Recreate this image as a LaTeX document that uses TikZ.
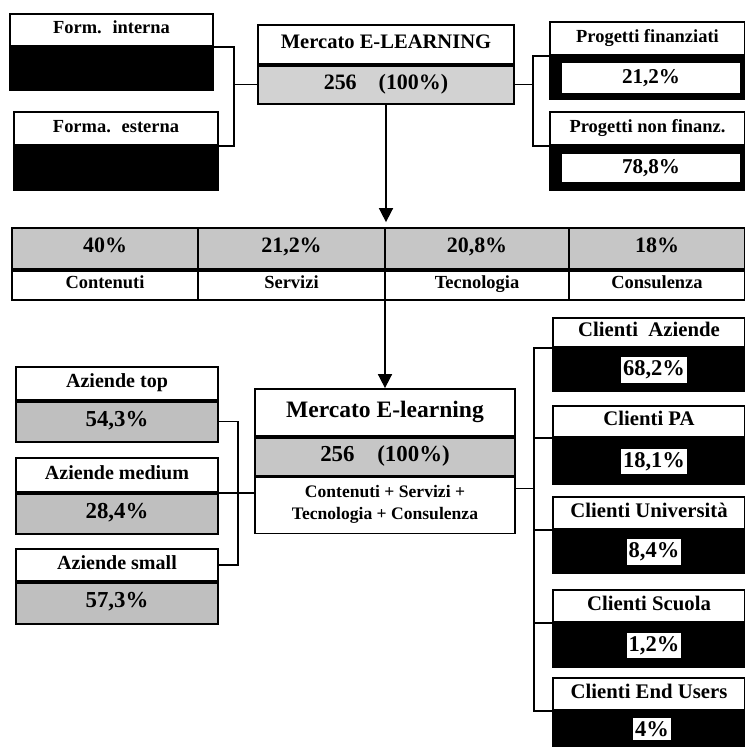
\documentclass[tikz,border=0pt]{standalone}
\usepackage{fontspec}
\setmainfont{Liberation Serif}
\usetikzlibrary{arrows.meta,calc}

\begin{document}
\begin{tikzpicture}[
  head/.style={draw,line width=1pt,fill=white,inner sep=0pt,font=\bfseries\fontsize{#1}{#1}\selectfont,execute at begin node=\strut},
  greyval/.style={draw,line width=1pt,fill=gray!45,inner sep=0pt,font=\bfseries\fontsize{#1}{#1}\selectfont,execute at begin node=\strut},
  blackval/.style={draw,line width=1pt,fill=black,inner sep=0pt},
  tag/.style={fill=white,inner xsep=1pt,inner ysep=2pt,font=\bfseries\fontsize{#1}{#1}\selectfont},
  wh/.style 2 args={minimum width=#1cm,minimum height=#2cm},
  link/.style={line width=0.8pt},
  flow/.style={line width=0.9pt,-{Triangle[width=8pt,length=8pt]}}
]
\useasboundingbox (0,0) rectangle (14.9,-14.94);

% Top: formazione interna / esterna
\node[head=10.5,wh={4.06}{0.64}] (fint) at (2.23,-0.60) {Form.~ interna};
\node[blackval,wh={4.06}{0.84},anchor=north] (fintv) at (fint.south) {};
\node[head=10.5,wh={4.08}{0.66}] (fest) at (2.32,-2.57) {Forma.~ esterna};
\node[blackval,wh={4.08}{0.86},anchor=north] (festv) at (fest.south) {};

% Top: mercato
\node[head=11.7,wh={5.12}{0.78}] (mtit) at (7.72,-0.89) {Mercato E-LEARNING};
\node[greyval=12.5,wh={5.12}{0.76},anchor=north,fill=gray!35] (mval) at (mtit.south) {256\quad(100\%)};

% Top: progetti
\node[head=10.5,wh={3.9}{0.66}] (pfin) at (12.95,-0.77) {Progetti finanziati};
\node[blackval,wh={3.9}{0.84},anchor=north] (pfinv) at (pfin.south) {};
\node[tag=12,wh={3.56}{0.60}] (pfinl) at ([xshift=2pt]pfinv.center) {21,2\%};
\node[head=10.5,wh={3.9}{0.66}] (pnon) at (12.95,-2.57) {Progetti non finanz.};
\node[blackval,wh={3.9}{0.86},anchor=north] (pnonv) at (pnon.south) {};
\node[tag=12,wh={3.56}{0.56}] (pnonl) at ([xshift=2pt]pnonv.center) {78,8\%};

\draw[link] (mval.west) -- ++(-0.46,0) coordinate (fj);
\draw[link] (fint.south east) -| (fj) |- (fest.south east);
\draw[link] (mval.east) -- ++(0.36,0) coordinate (pj);
\draw[link] (pfin.south west) -| (pj) |- (pnon.south west);

% Table of segments
\node[greyval=12.5,wh={3.72}{0.82}] (vcon) at (2.10,-4.97) {40\%};
\node[greyval=12.5,wh={3.74}{0.82}] (vser) at (5.83,-4.97) {21,2\%};
\node[greyval=12.5,wh={3.68}{0.82}] (vtec) at (9.54,-4.97) {20,8\%};
\node[greyval=12.5,wh={3.52}{0.82}] (vcsu) at (13.14,-4.97) {18\%};
\node[head=10.5,wh={3.72}{0.58},anchor=north] (lcon) at (vcon.south) {Contenuti};
\node[head=10.5,wh={3.74}{0.58},anchor=north] (lser) at (vser.south) {Servizi};
\node[head=10.5,wh={3.68}{0.58},anchor=north] (ltec) at (vtec.south) {Tecnologia};
\node[head=10.5,wh={3.52}{0.58},anchor=north] (lcsu) at (vcsu.south) {Consulenza};

\draw[flow,shorten >=0.1cm] (mval.south) -- (mval.south |- vtec.north);

% Bottom: mercato
\node[head=13.4,wh={5.2}{0.94}] (emt) at (7.70,-8.25) {Mercato E-learning};
\node[greyval=13,wh={5.2}{0.76},anchor=north] (emv) at (emt.south) {256\quad(100\%)};
\node[head=10,wh={5.2}{1.12},anchor=north,align=center,font=\bfseries\fontsize{10}{12}\selectfont] (ems) at (emv.south) {Contenuti + Servizi +\\Tecnologia + Consulenza};

\draw[flow] (emt.north |- ltec.south) -- (emt.north);

% Bottom: aziende
\node[head=11.4,wh={4.04}{0.66}] (atop) at (2.34,-7.67) {Aziende top};
\node[greyval=13,wh={4.04}{0.80},anchor=north,fill=gray!50] (atopv) at (atop.south) {54,3\%};
\node[head=11.4,wh={4.04}{0.68}] (amed) at (2.34,-9.50) {Aziende medium};
\node[greyval=13,wh={4.04}{0.80},anchor=north,fill=gray!50] (amedv) at (amed.south) {28,4\%};
\node[head=11.4,wh={4.04}{0.64}] (asma) at (2.34,-11.30) {Aziende small};
\node[greyval=13,wh={4.04}{0.82},anchor=north,fill=gray!50] (asmav) at (asma.south) {57,3\%};

\draw[link] (atopv.east) -| ([xshift=0.38cm]amed.south east) |- (asma.east);
\draw[link] (amed.south east) -- (amed.south east -| ems.west);

% Bottom: clienti
\node[head=11.8,wh={3.84}{0.58}] (caz) at (12.98,-6.65) {Clienti~ Aziende};
\node[blackval,wh={3.84}{0.84},anchor=north] (cazv) at (caz.south) {};
\node[tag=12.8] (cazl) at ([xshift=0.1cm]cazv.center) {68,2\%};
\node[head=11.8,wh={3.84}{0.62}] (cpa) at (12.98,-8.43) {Clienti PA};
\node[blackval,wh={3.84}{0.90},anchor=north] (cpav) at (cpa.south) {};
\node[tag=12.8] (cpal) at ([xshift=0.1cm]cpav.center) {18,1\%};
\node[head=11.8,wh={3.84}{0.64}] (cuni) at (12.98,-10.26) {Clienti Università};
\node[blackval,wh={3.84}{0.84},anchor=north] (cuniv) at (cuni.south) {};
\node[tag=12.8] (cunil) at ([xshift=0.1cm]cuniv.center) {8,4\%};
\node[head=11.8,wh={3.84}{0.64}] (csc) at (12.98,-12.12) {Clienti Scuola};
\node[blackval,wh={3.84}{0.86},anchor=north] (cscv) at (csc.south) {};
\node[tag=12.8] (cscl) at ([xshift=0.1cm]cscv.center) {1,2\%};
\node[head=11.8,wh={3.84}{0.64}] (ceu) at (12.98,-13.88) {Clienti End Users};
\node[blackval,wh={3.84}{0.70},anchor=north] (ceuv) at (ceu.south) {};
\node[tag=12.8] (ceul) at ([xshift=0.06cm]ceuv.center) {4\%};

\draw[link] ([yshift=-0.24cm]emv.south east) -- ++(0.36,0) coordinate (cj);
\draw[link] (caz.south west) -| (cj) |- (ceu.south west);
\draw[link] (cpa.south west) -- (cpa.south west -| cj);
\draw[link] (cuni.south west) -- (cuni.south west -| cj);
\draw[link] (csc.south west) -- (csc.south west -| cj);
\end{tikzpicture}
\end{document}
